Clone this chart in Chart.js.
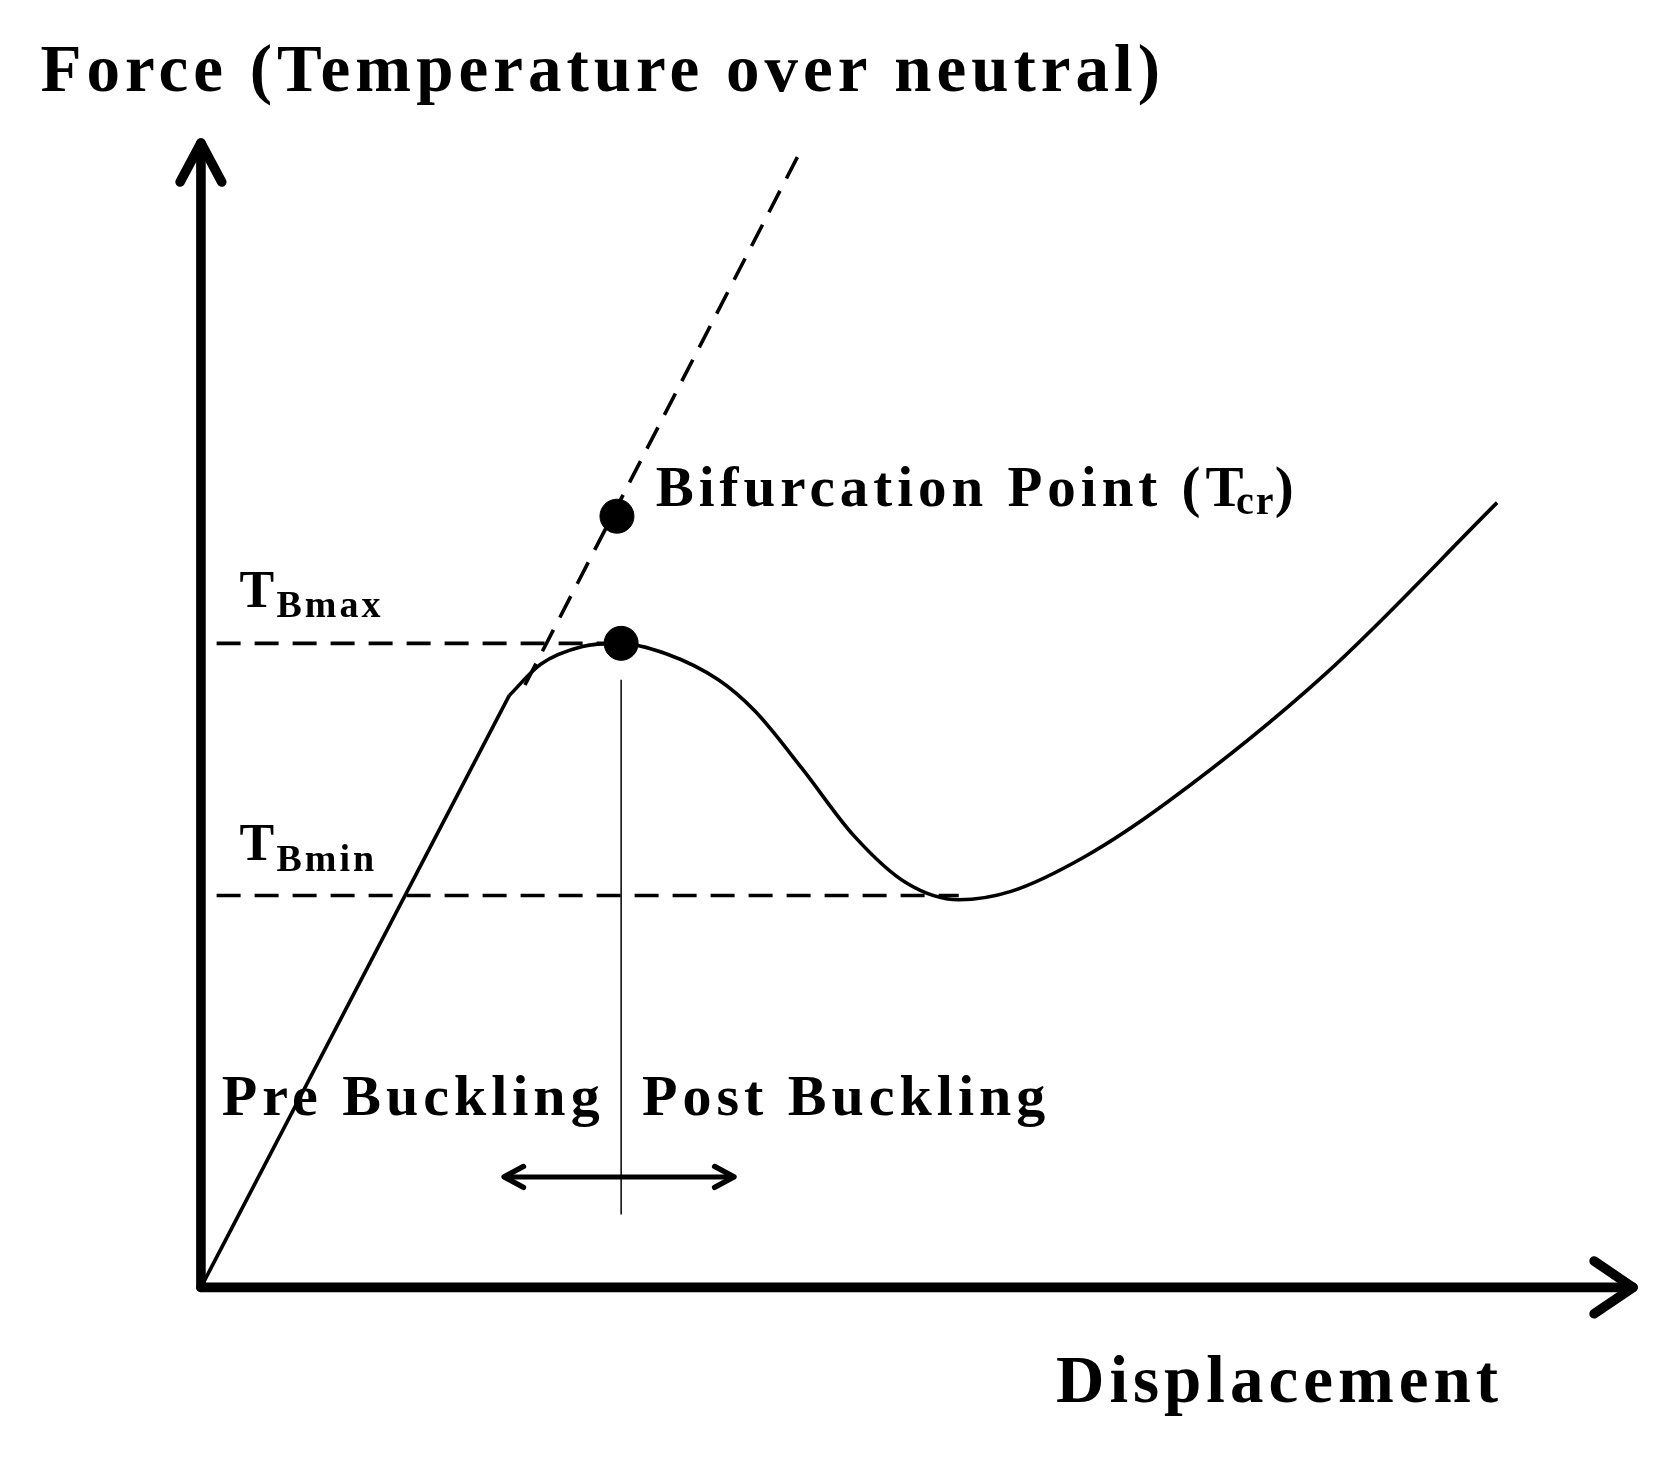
<!DOCTYPE html>
<html><head><meta charset="utf-8">
<script src="https://cdn.jsdelivr.net/npm/chart.js@4"></script>
<style>html,body{margin:0;padding:0;background:#fff}canvas{display:block}</style>
</head><body>
<canvas id="c" width="1674" height="1468" style="width:1674px;height:1468px"></canvas>
<script>
// Schematic data (diagram units, origin at axes crossing)
const preX = [0, 295];
const preY = [0, 568];
const curveX = [295, 325, 365, 400, 445, 495, 530, 575, 625, 675, 725, 775, 845, 925, 1075, 1240];
const curveY = [568, 598, 615, 618, 608, 583, 553, 498, 433, 388, 372, 380, 413, 466, 588, 753];
const linearX = [310, 575];
const linearY = [578, 1093];
const tBmax = 618, tBmin = 376;
const tBmaxEndX = 400, tBminEndX = 725;
const bifurcation = {x: 398, y: 740};
const peak = {x: 402, y: 618};
const vLineX = 402, vLineY = [70, 583];
const arrowX = [290, 510], arrowY = 106;
const axisEndX = 1370, axisEndY = 1098;

const S = 1.068;
const pts = (xs, ys) => xs.map((x, i) => ({x, y: ys[i]}));
const black = '#000';

const overlay = {
  id: 'overlay',
  afterDatasetsDraw(chart) {
    const {ctx, scales: {x, y}} = chart;
    const px = v => x.getPixelForValue(v), py = v => y.getPixelForValue(v);
    ctx.save();
    ctx.strokeStyle = black; ctx.fillStyle = black; ctx.lineCap = 'round'; ctx.lineJoin = 'round';
    ctx.lineWidth = 9 * S;
    ctx.beginPath(); ctx.moveTo(px(0), py(0)); ctx.lineTo(px(0), py(axisEndY)); ctx.stroke();
    ctx.beginPath(); ctx.moveTo(px(0), py(0)); ctx.lineTo(px(axisEndX), py(0)); ctx.stroke();
    const h = 26 * S;
    ctx.beginPath(); ctx.moveTo(px(0) - h * 0.75, py(axisEndY) + h * 1.4); ctx.lineTo(px(0), py(axisEndY)); ctx.lineTo(px(0) + h * 0.75, py(axisEndY) + h * 1.4); ctx.stroke();
    ctx.beginPath(); ctx.moveTo(px(axisEndX) - h * 1.4, py(0) - h * 0.95); ctx.lineTo(px(axisEndX), py(0)); ctx.lineTo(px(axisEndX) - h * 1.4, py(0) + h * 0.95); ctx.stroke();
    ctx.lineWidth = 5 * S;
    const a = 14 * S;
    [[arrowX[0], 1], [arrowX[1], -1]].forEach(([xv, d]) => {
      ctx.beginPath(); ctx.moveTo(px(xv) + d * a * 1.3, py(arrowY) - a * 0.7); ctx.lineTo(px(xv), py(arrowY)); ctx.lineTo(px(xv) + d * a * 1.3, py(arrowY) + a * 0.7); ctx.stroke();
    });
    const F = 'Liberation Serif, DejaVu Serif, serif';
    ctx.textBaseline = 'alphabetic'; ctx.textAlign = 'left';
    ctx.letterSpacing = '5px';
    const txt = (t, xv, yv, size) => { ctx.font = 'bold ' + size + 'px ' + F; ctx.fillText(t, px(xv), py(yv)); return ctx.measureText(t).width; };
    ctx.font = 'bold 67px ' + F;
    ctx.fillText('Force (Temperature over neutral)', 38 * S, 85 * S);
    ctx.fillText('Displacement', px(818), py(-110));
    ctx.font = 'bold 58px ' + F;
    ctx.fillText('Pre Buckling', px(20), py(165));
    ctx.fillText('Post Buckling', px(422), py(165));
    let w = txt('Bifurcation Point (T', 435, 750, 57);
    ctx.letterSpacing = '2px';
    let w2 = txt('cr', 435 + w / S, 742, 40);
    ctx.letterSpacing = '5px';
    txt(')', 435 + (w + w2) / S, 750, 57);
    ctx.letterSpacing = '3px';
    w = txt('T', 37, 653, 52); txt('Bmax', 37 + w / S, 643, 38);
    w = txt('T', 37, 410, 52); txt('Bmin', 37 + w / S, 400, 38);
    ctx.restore();
  }
};

const solid = {showLine: true, borderColor: black, borderWidth: 3.6, pointRadius: 0};
const dashed = {showLine: true, borderColor: black, borderWidth: 3.6, borderDash: [24, 14], pointRadius: 0};

new Chart(document.getElementById('c'), {
  type: 'scatter',
  data: {
    datasets: [
      Object.assign({data: pts(preX, preY)}, solid),
      Object.assign({data: pts(curveX, curveY), tension: 0.4, cubicInterpolationMode: 'monotone'}, solid),
      Object.assign({data: pts(linearX, linearY)}, dashed),
      Object.assign({data: pts([15, tBmaxEndX], [tBmax, tBmax])}, dashed),
      Object.assign({data: pts([15, tBminEndX], [tBmin, tBmin])}, dashed),
      {data: pts([vLineX, vLineX], vLineY), showLine: true, borderColor: black, borderWidth: 1.5, pointRadius: 0},
      {data: pts(arrowX, [arrowY, arrowY]), showLine: true, borderColor: black, borderWidth: 5, pointRadius: 0},
      {data: [bifurcation, peak], showLine: false, backgroundColor: black, borderColor: black, pointRadius: 17, pointHoverRadius: 17}
    ]
  },
  options: {
    responsive: false, animation: false,
    layout: {padding: 0},
    plugins: {legend: {display: false}, tooltip: {enabled: false}},
    scales: {
      x: {type: 'linear', min: -175, max: 1567 - 175, display: false},
      y: {type: 'linear', min: -(1374 - 1218), max: 1218, display: false}
    }
  },
  plugins: [overlay]
});
</script>
</body></html>
